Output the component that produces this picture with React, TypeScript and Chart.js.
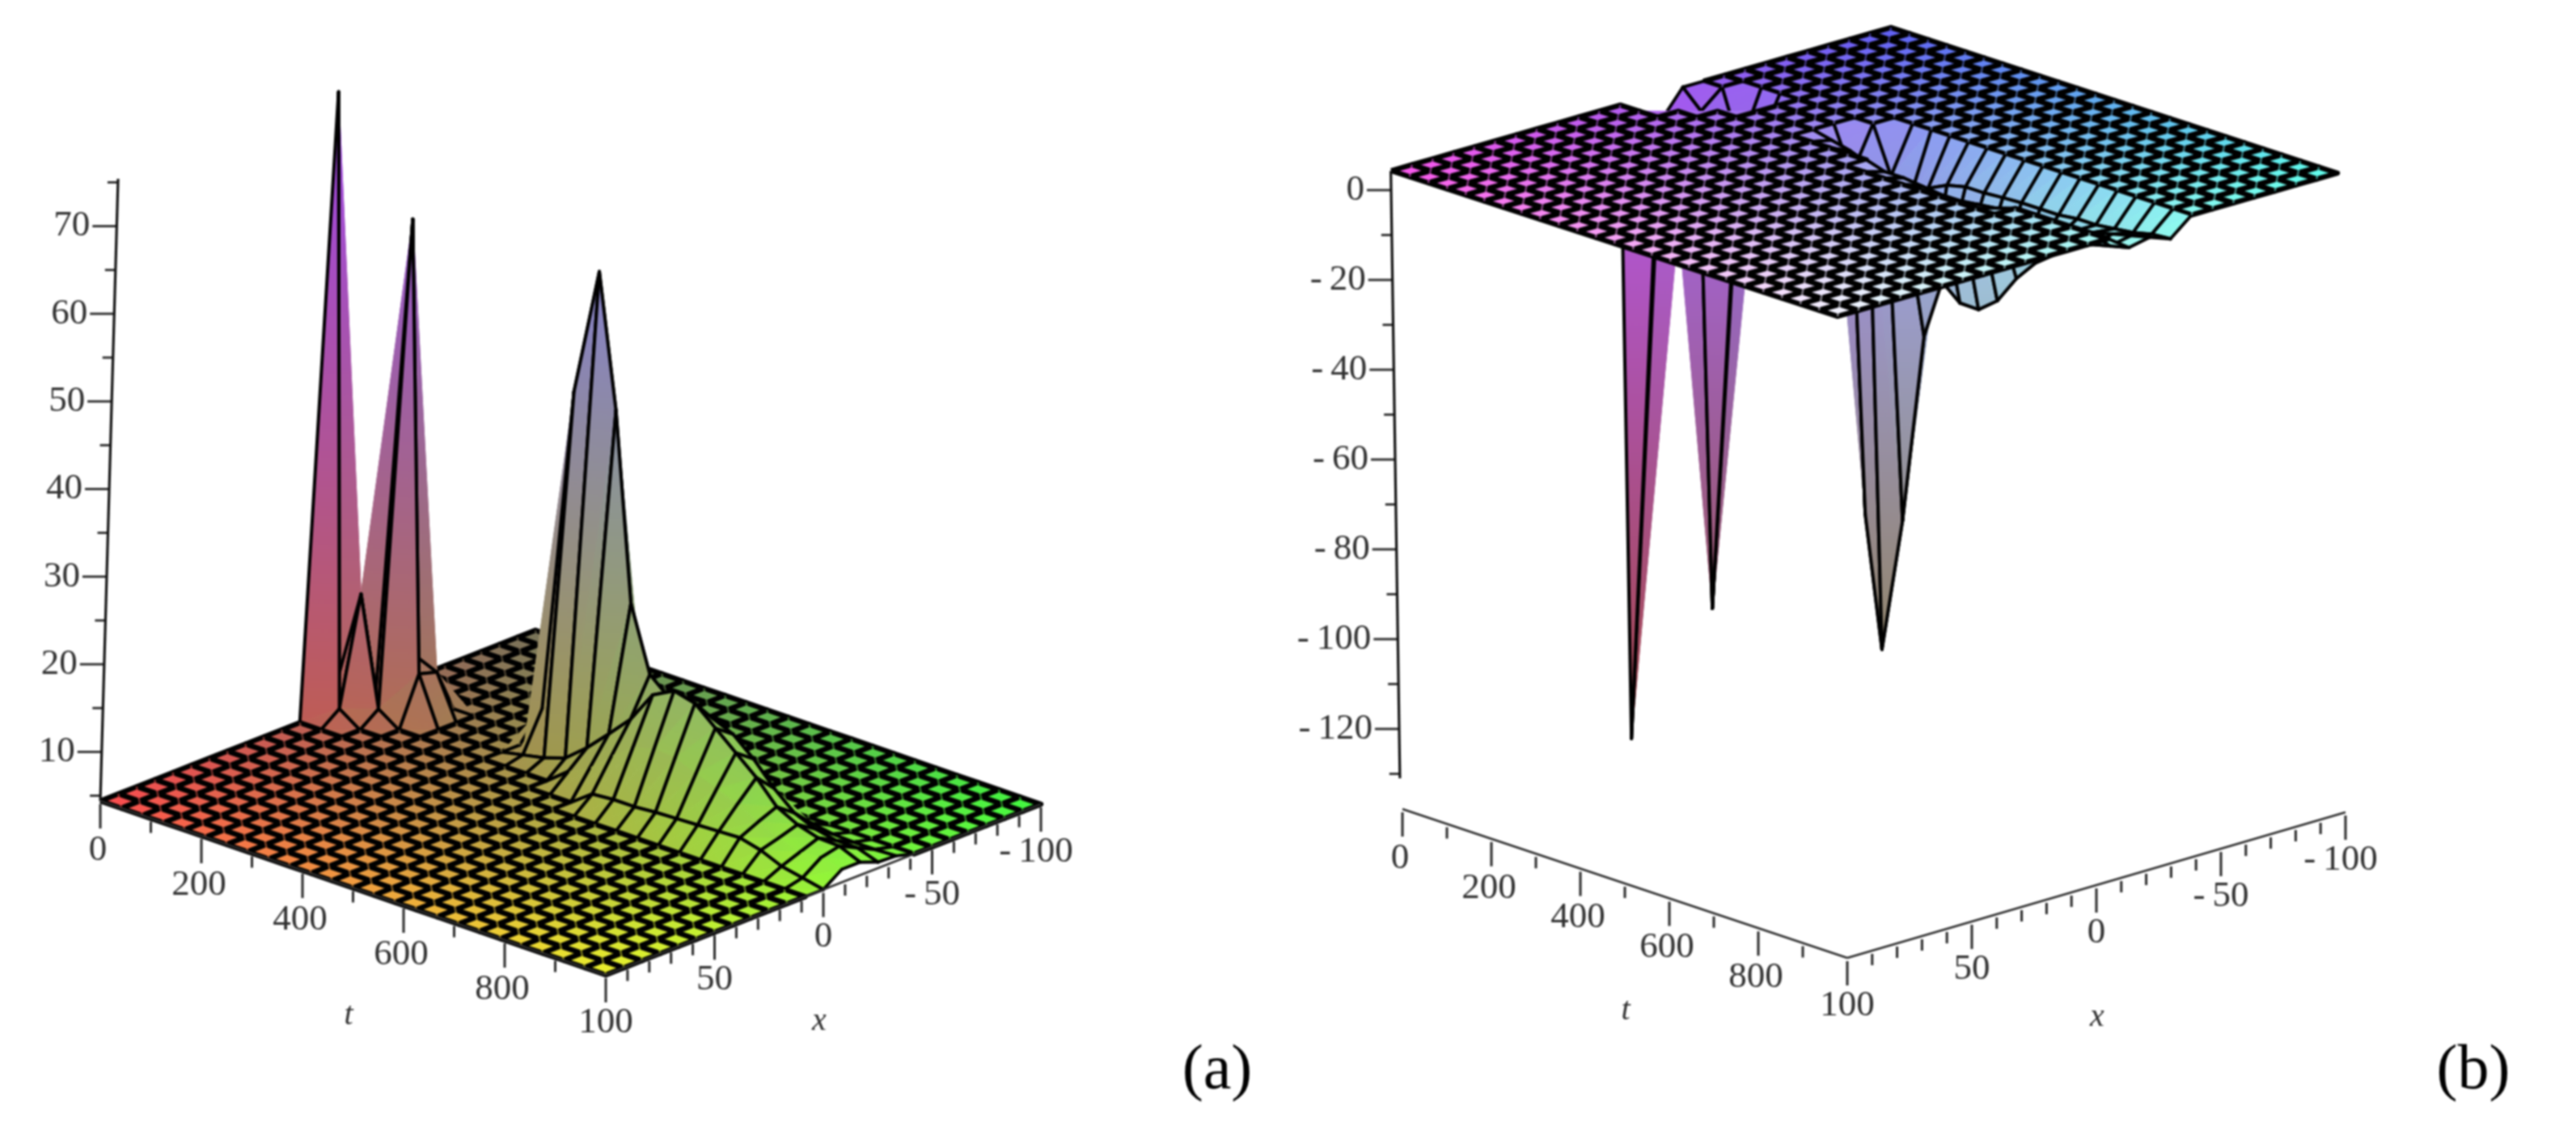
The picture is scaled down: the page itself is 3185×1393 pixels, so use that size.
import React, { useEffect, useRef } from "react";
import { Chart, registerables } from "chart.js";

Chart.register(...registerables);

const W = 3185;
const H = 1393;

// Mesh lines of the two surfaces
const tGrid = [0, 41.7, 83.3, 125, 166.7, 208.3, 250, 291.7, 333.3, 375, 416.7, 458.3, 500, 541.7, 583.3, 625, 666.7, 708.3, 750, 791.7, 833.3, 875, 916.7, 958.3, 1000];
const xGrid = [100, 91.7, 83.3, 75, 66.7, 58.3, 50, 41.7, 33.3, 25, 16.7, 8.3, 0, -8.3, -16.7, -25, -33.3, -41.7, -50, -58.3, -66.7, -75, -83.3, -91.7, -100];

// Surface heights: flat level and raised vertices [t index, z], per x index
const flatA = 4.4;
const liftA12 = [[0, 75.6], [1, 6], [13, 6.2], [14, 6.4], [15, 6.4], [16, 6.6], [17, 6.7], [18, 6.8], [19, 6.9], [20, 7], [21, 6.4], [22, 5.4], [23, 4.9]];
const liftA13 = [[0, 7.4], [1, 18.3], [2, 6], [11, 6.3], [12, 7.5], [13, 9.7], [14, 11.5], [15, 12.2], [16, 12], [17, 11], [18, 10.1], [19, 9.2], [20, 8], [21, 7], [22, 6.2], [23, 6.4], [24, 5.9]];
const liftA14 = [[1, 6.4], [2, 61.1], [3, 10], [8, 4.9], [9, 5.4], [10, 6.2], [11, 8.2], [12, 10.6], [13, 13.1], [14, 16.7], [15, 18], [16, 17.4], [17, 15.4], [18, 13.4], [19, 11.4], [20, 8.9], [21, 7.7], [22, 7], [23, 6.9], [24, 5.9]];
const liftA15 = [[2, 10.4], [3, 9.4], [8, 9.4], [9, 46.4], [10, 60.9], [11, 45.9], [12, 24.7], [13, 17.4], [14, 15.4], [15, 15.4], [16, 14.9], [17, 13.9], [18, 11.9], [19, 9.4], [20, 7.4], [21, 6.4], [22, 5.9], [23, 5.9], [24, 5.1]];
const liftA16 = [[9, 12.4], [10, 16.4], [11, 12.4], [12, 10.4], [13, 9.4], [14, 8.4], [15, 7.9], [16, 7.4], [17, 6.9], [18, 6.4], [19, 5.9], [20, 5.4], [21, 5], [22, 4.9], [23, 4.9], [24, 5]];

// Surface depths
const flatB = 4.3;
const liftB12 = [[0, -138.1], [1, 1.1]];
const liftB13 = [[0, -1.7], [1, -23.5], [2, 1.1], [12, 3], [13, 3], [14, 2.5], [15, 2], [16, 2], [17, 2.5], [18, 3]];
const liftB14 = [[1, 0.3], [2, -109.1], [3, -6.9], [8, 3.3], [9, 2.3], [10, 0.7], [11, -3.3], [12, -8.1], [13, -13.1], [14, -20], [15, -23.5], [16, -23.6], [17, -20.3], [18, -14], [19, -9.2], [20, -6], [21, -3], [22, -1], [23, 0], [24, 1]];
const liftB15 = [[2, -7.7], [3, -5.7], [8, -5.7], [9, -80], [10, -108.7], [11, -78.7], [12, -36.3], [13, -21.7], [14, -17.7], [15, -17.7], [16, -16.7], [17, -14.7], [18, -8], [19, -5], [20, -2], [21, -1], [22, 0], [23, 1], [24, 2]];
const liftB16 = [[9, -6], [10, -10], [11, -6], [12, -4], [13, -3], [14, -3], [15, -2.7], [16, -2.5], [17, -2.5], [18, -2.5], [19, -2], [20, -2], [21, -1.5], [22, -1], [23, 0], [24, 0.3]];

// Stretch of the x = 13 mesh line that does not show on the ridge wall of panel (a)
const hiddenRidgeLine = { xIndex: 13, fromT: 11, toT: 24 };

// Axis ticks
const tMajor = [0, 200, 400, 600, 800];
const tMinor = [100, 300, 500, 700, 900];
const xMajor = [100, 50, 0, -50, -100];
const xMinor = [90, 80, 70, 60, 40, 30, 20, 10, -10, -20, -30, -40, -60, -70, -80, -90];
const zMajorA = [10, 20, 30, 40, 50, 60, 70];
const zMinorA = [5, 15, 25, 35, 45, 55, 65, 75];
const zMajorB = [0, -20, -40, -60, -80, -100, -120];
const zMinorB = [-10, -30, -50, -70, -90, -110, -130];

type V2 = [number, number];
interface Panel {
  origin: V2; tVec: V2; xVec: V2; zVec: V2; flat: number; lifts: Record<number, number[][]>;
  axisOrigin: V2; axisTVec: V2; axisXVec: V2;
  zTop: number; zBottom: number; zAxisAt: (z: number) => V2;
  zMajor: number[]; zMinor: number[]; zRange: number; hideRidge: boolean;
  corners: number[][]; shade: (c: number[], f: number) => number[];
  tTitle: V2; xTitle: V2; panelLabel: string; panelLabelAt: V2;
}

const panels: Panel[] = [
  {
    origin: [124, 990], tVec: [625, 215], xVec: [538, -211], zVec: [0.36, -10.83], flat: flatA,
    lifts: { 12: liftA12, 13: liftA13, 14: liftA14, 15: liftA15, 16: liftA16 },
    axisOrigin: [124, 990], axisTVec: [625, 215], axisXVec: [538, -211],
    zTop: 75.4, zBottom: 4.4,
    zAxisAt: (z) => [124 + 0.31 * (z - 4.4), 990 - 10.83 * (z - 4.4)],
    zMajor: zMajorA, zMinor: zMinorA, zRange: 71, hideRidge: true,
    corners: [[250, 75, 80], [235, 240, 45], [65, 250, 65], [120, 115, 90]],
    shade: (c, f) => [c[0] * (1 - 0.15 * f), c[1] * (1 - 0.25 * f), c[2] + (235 - c[2]) * f],
    tTitle: [431, 1255], xTitle: [1013, 1262], panelLabel: "(a)", panelLabelAt: [1505, 1325],
  },
  {
    origin: [1720, 211], tVec: [552, 180], xVec: [618, -177], zVec: [0.083, -5.55], flat: flatB,
    lifts: { 12: liftB12, 13: liftB13, 14: liftB14, 15: liftB15, 16: liftB16 },
    axisOrigin: [1734, 1000], axisTVec: [550, 184], axisXVec: [616, -180],
    zTop: 4.3, zBottom: -131,
    zAxisAt: (z) => [1720 - 0.083 * z, 235 - 5.55 * z],
    zMajor: zMajorB, zMinor: zMinorB, zRange: 142, hideRidge: false,
    corners: [[250, 85, 235], [245, 245, 255], [95, 255, 235], [95, 95, 245]],
    shade: (c, f) => [c[0] * (1 - 0.05 * f), c[1] * (1 - 0.2 * f), c[2] * (1 - 0.7 * f)],
    tTitle: [2010, 1249], xTitle: [2593, 1257], panelLabel: "(b)", panelLabelAt: [3058, 1325],
  },
];

function heightGrid(p: Panel): number[][] {
  const g = tGrid.map(() => xGrid.map(() => p.flat));
  Object.keys(p.lifts).forEach((k) => {
    p.lifts[Number(k)].forEach(([i, z]) => { g[i][Number(k)] = z; });
  });
  return g;
}

function project(p: Panel, t: number, x: number, z: number) {
  const s = t / 1000;
  const u = (100 - x) / 200;
  return {
    x: p.origin[0] + s * p.tVec[0] + u * p.xVec[0] + (z - p.flat) * p.zVec[0],
    y: p.origin[1] + s * p.tVec[1] + u * p.xVec[1] + (z - p.flat) * p.zVec[1],
  };
}

function vertexColor(p: Panel, v: number[], alpha = 1): string {
  const s = v[0] / 1000;
  const u = (100 - v[1]) / 200;
  const [L, F, R, B] = p.corners;
  const c = [0, 1, 2].map((k) => (1 - s) * (1 - u) * L[k] + s * (1 - u) * F[k] + s * u * R[k] + (1 - s) * u * B[k]);
  const f = Math.min(1, Math.abs(v[2] - p.flat) / p.zRange);
  const m = p.shade(c, f);
  return `rgba(${Math.round(m[0])},${Math.round(m[1])},${Math.round(m[2])},${alpha})`;
}

function triPaint(p: Panel, tri: number[][], ctx: CanvasRenderingContext2D, X: (v: number[]) => { x: number; y: number }) {
  const dev = (v: number[]) => Math.abs(v[2] - p.flat);
  const sorted = [...tri].sort((m, n) => dev(m) - dev(n));
  const lo = sorted[0];
  const hi = sorted[2];
  if (dev(hi) - dev(lo) < 0.01) {
    const mid = [(tri[0][0] + tri[1][0] + tri[2][0]) / 3, (tri[0][1] + tri[1][1] + tri[2][1]) / 3, tri[0][2]];
    return vertexColor(p, mid);
  }
  const a = X(lo);
  const b = X(hi);
  const g = ctx.createLinearGradient(a.x, a.y, b.x, b.y);
  g.addColorStop(0, vertexColor(p, lo));
  g.addColorStop(1, vertexColor(p, hi));
  return g;
}

function surfaceDatasets(p: Panel, ctx: CanvasRenderingContext2D): any[] {
  const g = heightGrid(p);
  const layers: { key: number; sets: any[] }[] = [];
  const P = (v: number[]) => project(p, v[0], v[1], v[2]);
  const common = { showLine: true, pointRadius: 0, tension: 0, parsing: false, normalized: true };
  for (let i = 0; i < tGrid.length - 1; i++) {
    for (let j = 0; j < xGrid.length - 1; j++) {
      const a = [tGrid[i], xGrid[j], g[i][j]];
      const b = [tGrid[i], xGrid[j + 1], g[i][j + 1]];
      const c = [tGrid[i + 1], xGrid[j + 1], g[i + 1][j + 1]];
      const d = [tGrid[i + 1], xGrid[j], g[i + 1][j]];
      const isFlat = [a, b, c, d].every((v) => v[2] === p.flat);
      const sets: any[] = [];
      if (isFlat) {
        const mid = [(a[0] + c[0]) / 2, (a[1] + c[1]) / 2, p.flat];
        sets.push({ ...common, data: [P(a), P(b), P(c), P(d), P(a)], fill: "shape", backgroundColor: vertexColor(p, mid), borderColor: "#000", borderWidth: 6.4, borderJoinStyle: "round" });
        // the faint upright glints that cross the mesh in the reference
        layers.push({
          key: i - j + 2.5,
          sets: [{ ...common, data: [P(b), P(d)], fill: false, borderColor: vertexColor(p, mid, 0.55), borderWidth: 2.4 }],
        });
      } else {
        const t1 = triPaint(p, [a, b, c], ctx, P);
        const t2 = triPaint(p, [a, c, d], ctx, P);
        sets.push({ ...common, data: [P(a), P(b), P(c), P(a)], fill: "shape", backgroundColor: t1, borderColor: t1, borderWidth: 1, borderJoinStyle: "round" });
        sets.push({ ...common, data: [P(a), P(c), P(d), P(a)], fill: "shape", backgroundColor: t2, borderColor: t2, borderWidth: 1, borderJoinStyle: "round" });
        const inRange = p.hideRidge && i >= hiddenRidgeLine.fromT && i < hiddenRidgeLine.toT;
        const edges: number[][][] = [[a, b], [d, c]];
        if (!(inRange && j === hiddenRidgeLine.xIndex)) edges.push([a, d]);
        if (!(inRange && j + 1 === hiddenRidgeLine.xIndex)) edges.push([b, c]);
        edges.forEach(([m, n]) => {
          sets.push({ ...common, data: [P(m), P(n)], fill: false, borderColor: "#000", borderWidth: 4, borderCapStyle: "round" });
        });
      }
      layers.push({ key: i - j, sets });
    }
  }
  layers.sort((m, n) => m.key - n.key); // back to front
  return layers.flatMap((c) => c.sets).reverse(); // Chart.js paints the last dataset first
}

function seg(a: { x: number; y: number }, b: { x: number; y: number }, width = 3, color = "#2a2a2a") {
  return { showLine: true, pointRadius: 0, parsing: false, normalized: true, data: [a, b], fill: false, borderColor: color, borderWidth: width };
}

function axisPoint(p: Panel, t: number, x: number) {
  const s = t / 1000;
  const u = (100 - x) / 200;
  return { x: p.axisOrigin[0] + s * p.axisTVec[0] + u * p.axisXVec[0], y: p.axisOrigin[1] + s * p.axisTVec[1] + u * p.axisXVec[1] };
}

function axisDatasets(p: Panel): any[] {
  const out: any[] = [];
  const down = (a: { x: number; y: number }, from: number, to: number) =>
    seg({ x: a.x, y: a.y + from }, { x: a.x, y: a.y + to }, 3);
  out.push(seg(axisPoint(p, 0, 100), axisPoint(p, 1000, 100), 2.5));
  out.push(seg(axisPoint(p, 1000, 100), axisPoint(p, 1000, -100), 2.5));
  tMajor.forEach((t) => out.push(down(axisPoint(p, t, 100), 4, 34)));
  tMinor.forEach((t) => out.push(down(axisPoint(p, t, 100), 4, 18)));
  xMajor.forEach((x) => out.push(down(axisPoint(p, 1000, x), 4, 34)));
  xMinor.forEach((x) => out.push(down(axisPoint(p, 1000, x), 4, 18)));
  const [tx, ty] = p.zAxisAt(p.zTop);
  const [bx, by] = p.zAxisAt(p.zBottom);
  out.push(seg({ x: tx, y: ty }, { x: bx, y: by }, 3.2, "#111"));
  p.zMajor.forEach((z) => {
    const [ax, ay] = p.zAxisAt(z);
    out.push(seg({ x: ax, y: ay }, { x: ax - 30, y: ay }, 2.8));
  });
  p.zMinor.forEach((z) => {
    const [ax, ay] = p.zAxisAt(z);
    out.push(seg({ x: ax, y: ay }, { x: ax - 13, y: ay }, 2.8));
  });
  return out;
}

const tickText = (v: number) => (v < 0 ? `-\u2009${Math.abs(v)}` : String(v));

const labelsPlugin = {
  id: "panelText",
  afterDatasetsDraw(chart: any) {
    const { ctx, scales } = chart;
    const X = (v: number) => scales.x.getPixelForValue(v);
    const Y = (v: number) => scales.y.getPixelForValue(v);
    ctx.save();
    ctx.textBaseline = "middle";
    panels.forEach((p) => {
      ctx.fillStyle = "#303030";
      ctx.font = '45px "Liberation Serif"';
      ctx.textAlign = "center";
      tMajor.forEach((t) => {
        const a = axisPoint(p, t, 100);
        ctx.fillText(String(t), X(a.x - 3), Y(a.y + 61));
      });
      xMajor.forEach((x) => {
        const a = axisPoint(p, 1000, x);
        ctx.fillText(tickText(x), X(a.x - (x === -100 ? 6 : 0)), Y(a.y + 59));
      });
      ctx.textAlign = "right";
      p.zMajor.forEach((z) => {
        const [ax, ay] = p.zAxisAt(z);
        ctx.fillText(tickText(z), X(ax - 33), Y(ay));
      });
      ctx.textAlign = "center";
      ctx.font = 'italic 40px "Liberation Serif"';
      ctx.fillText("t", X(p.tTitle[0]), Y(p.tTitle[1]));
      ctx.fillText("x", X(p.xTitle[0]), Y(p.xTitle[1]));
      ctx.font = '78px "Liberation Serif"';
      ctx.fillStyle = "#000";
      ctx.fillText(p.panelLabel, X(p.panelLabelAt[0]), Y(p.panelLabelAt[1]));
    });
    ctx.restore();
  },
};

export default function App() {
  const ref = useRef<HTMLCanvasElement | null>(null);
  useEffect(() => {
    document.body.style.margin = "0";
    const canvas = ref.current as HTMLCanvasElement;
    const ctx = canvas.getContext("2d") as CanvasRenderingContext2D;
    const datasets = panels.flatMap((p) => [...axisDatasets(p), ...surfaceDatasets(p, ctx)]);
    const chart = new Chart(canvas, {
      type: "scatter",
      data: { datasets },
      options: {
        animation: false,
        responsive: false,
        devicePixelRatio: 1,
        events: [],
        layout: { padding: 0 },
        plugins: { legend: { display: false }, tooltip: { enabled: false }, title: { display: false } },
        scales: {
          x: { type: "linear", min: 0, max: W, display: false },
          y: { type: "linear", min: 0, max: H, reverse: true, display: false },
        },
      },
      plugins: [labelsPlugin],
    } as any);
    return () => chart.destroy();
  }, []);
  return (
    <canvas
      ref={ref}
      width={W}
      height={H}
      style={{ position: "fixed", left: 0, top: 0, width: W, height: H, filter: "blur(0.8px)" }}
    />
  );
}
